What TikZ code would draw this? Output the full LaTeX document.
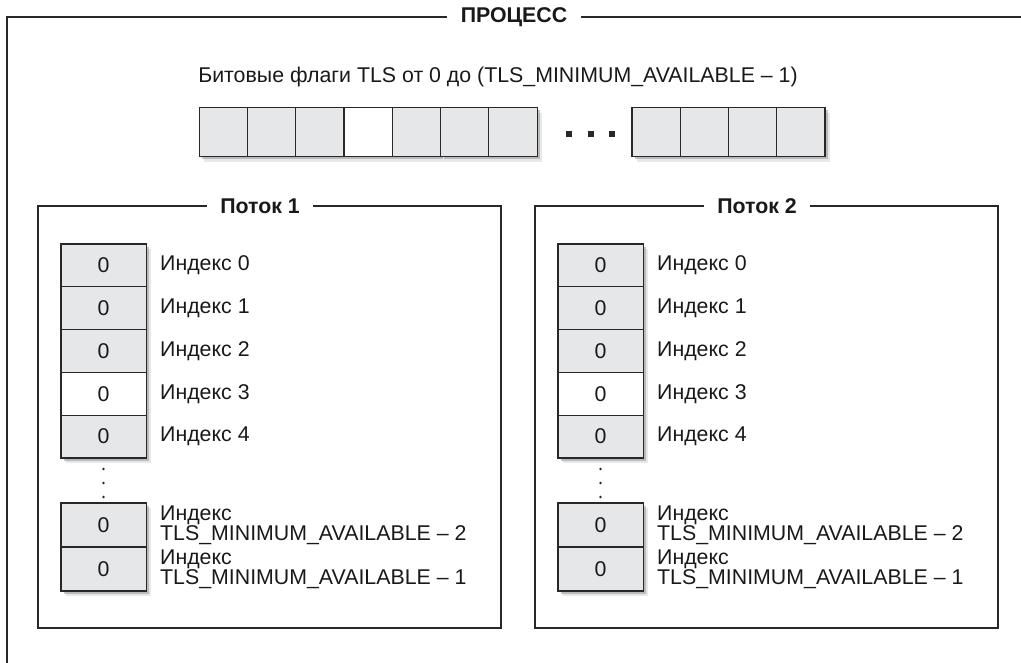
\documentclass[tikz,border=0pt]{standalone}
\usepackage{fontspec}
\setmainfont{Liberation Sans}
\usepackage{tikz}
\usetikzlibrary{positioning, shadows}
\usepackage{xcolor}
\definecolor{cellgray}{RGB}{230,231,232}
\definecolor{linegray}{RGB}{40,40,40}

\begin{document}
\begin{tikzpicture}[
        x=0.75pt, y=-0.75pt,
        node distance=10pt and 10pt,
        every node/.style={font=\fontsize{16}{15}\selectfont, text=black!90},
        frame/.style={draw=linegray, line width=2.2pt},
        thread/.style={draw=linegray, line width=0.9pt},
        caption/.style={fill=white, inner xsep=10pt, font=\fontsize{16}{15}\selectfont\bfseries},
        cell/.style={draw=linegray, line width=0.8pt, fill=cellgray, minimum width=36.2pt, minimum height=36.8pt,
            drop shadow={shadow xshift=4pt, shadow yshift=-4pt, fill=black!18},
            drop shadow={shadow xshift=2.2pt, shadow yshift=-2.2pt, fill=black!45}},
        slot/.style={cell, minimum width=63.8pt, minimum height=32.1pt},
        lastslot/.style={slot, minimum height=33pt},
        label/.style={inner sep=0pt, anchor=west, align=left}
    ]
        \useasboundingbox (0,0) rectangle (1021,663);

        % process frame
        \node[caption] (process) at (514,17) {ПРОЦЕСС};
        \draw[frame] (process.west) -- (7,17) -- (7,670);
        \draw[frame] (process.east) -- (1030,17);

        % TLS bit flags
        \node (flags) at (498,77) {Битовые флаги TLS от 0 до (TLS\_MINIMUM\_AVAILABLE – 1)};
        \foreach \i/\f in {0/cellgray, 1/cellgray, 2/cellgray, 3/white, 4/cellgray, 5/cellgray, 6/cellgray}
            \node[cell, fill=\f] (bit\i) at ({223.2+48.3*\i},132) {};
        \foreach \x in {569,591,612}
            \fill[linegray] (\x-2.6,131.4) rectangle (\x+2.6,136.6);
        \foreach \i in {0,...,3}
            \node[cell] (bitend\i) at ({656.1+48.25*\i},132) {};

        % threads
        \foreach \t/\x in {1/38, 2/535} {
            \draw[thread] (\x,206) rectangle ++(463,422);
            \node[caption] (thread\t) at (\x+222,206) {Поток \t};
            \foreach \r/\f in {0/cellgray, 1/cellgray, 2/cellgray, 3/white, 4/cellgray} {
                \node[slot, fill=\f] (t\t r\r) at (\x+65.5,{265.4+42.8*\r}) {0};
                \node[label, right=of t\t r\r] (idx\t r\r) {Индекс \r};
            }
            \foreach \y in {469,483,497}
                \fill[linegray] (\x+65.5,\y) circle (1.1pt);
            \node[lastslot] (t\t ra) at (\x+65.5,525) {0};
            \node[lastslot] (t\t rb) at (\x+65.5,569) {0};
            \node[label, right=of t\t ra] (idx\t ra) {Индекс\\TLS\_MINIMUM\_AVAILABLE – 2};
            \node[label, right=of t\t rb] (idx\t rb) {Индекс\\TLS\_MINIMUM\_AVAILABLE – 1};
        }
    \end{tikzpicture}
\end{document}
